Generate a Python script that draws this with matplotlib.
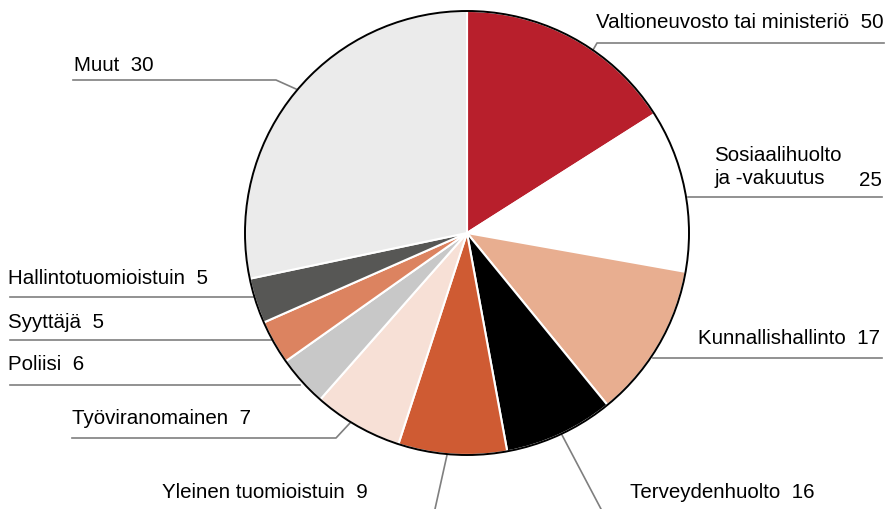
import matplotlib
matplotlib.use("Agg")
import matplotlib.pyplot as plt
from matplotlib.patches import Circle

plt.rcParams['font.family'] = ['Liberation Sans Narrow', 'Liberation Sans', 'DejaVu Sans']

# slice order: clockwise from 12 o'clock
names = ['Valtioneuvosto tai ministeriö', 'Sosiaalihuolto\nja -vakuutus', 'Kunnallishallinto',
         'Terveydenhuolto', 'Yleinen tuomioistuin', 'Työviranomainen', 'Poliisi',
         'Syyttäjä', 'Hallintotuomioistuin', 'Muut']
counts = [50, 25, 17, 16, 9, 7, 6, 5, 5, 30]
shares = [16.0, 11.8, 11.3, 8.0, 7.9, 6.5, 3.7, 3.2, 3.3, 28.3]
colors = ['#B81F2C', '#FFFFFF', '#E8AE90', '#000000', '#CF5B33', '#F7E0D6',
          '#C8C8C8', '#DC8360', '#575755', '#EBEBEB']

W, H = 890, 509
fig = plt.figure(figsize=(W / 100, H / 100), dpi=100)
ax = fig.add_axes([0, 0, 1, 1])

cx, cy, r = 467, H - 233, 222
ax.pie(shares, colors=colors, startangle=90, counterclock=False,
       center=(cx, cy), radius=r,
       wedgeprops=dict(edgecolor='white', linewidth=1.5))
ax.add_patch(Circle((cx, cy), r, fill=False, edgecolor='black', linewidth=1.4, zorder=5))

# label anchors (pixel coords, y down): x, y, alignment
label_pos = [(884, 22, 'right'), (714, 167, 'left'), (880, 338, 'right'),
             (630, 492, 'left'), (162, 493, 'left'), (72, 418, 'left'),
             (8, 365, 'left'), (8, 322, 'left'), (8, 279, 'left'), (74, 65, 'left')]
leaders = [
    [(884, 43), (597, 43), (593, 50)],
    [(882, 197), (688, 197)],
    [(882, 358), (653, 358)],
    [(562, 435), (601, 509)],
    [(447, 455), (435, 509)],
    [(72, 438), (336, 438), (350, 423)],
    [(10, 385), (300, 385)],
    [(10, 340), (272, 340)],
    [(10, 297), (254, 297)],
    [(73, 80), (276, 80), (296, 89)],
]

fs = 14.8
for name, cnt, (x, y, ha), pts in zip(names, counts, label_pos, leaders):
    xs = [p[0] for p in pts]
    ys = [H - p[1] for p in pts]
    ax.plot(xs, ys, color='#7F7F7F', linewidth=1.2, zorder=1)
    if '\n' in name:
        ax.text(x, H - y, name, ha='left', va='center', fontsize=fs, linespacing=1.3)
        ax.text(882, H - 180, str(cnt), ha='right', va='center', fontsize=fs)
    else:
        ax.text(x, H - y, f'{name}  {cnt}', ha=ha, va='center', fontsize=fs)

ax.set_xlim(0, W)
ax.set_ylim(0, H)
ax.set_aspect('equal')
ax.axis('off')

fig.savefig('out.png', dpi=100)
